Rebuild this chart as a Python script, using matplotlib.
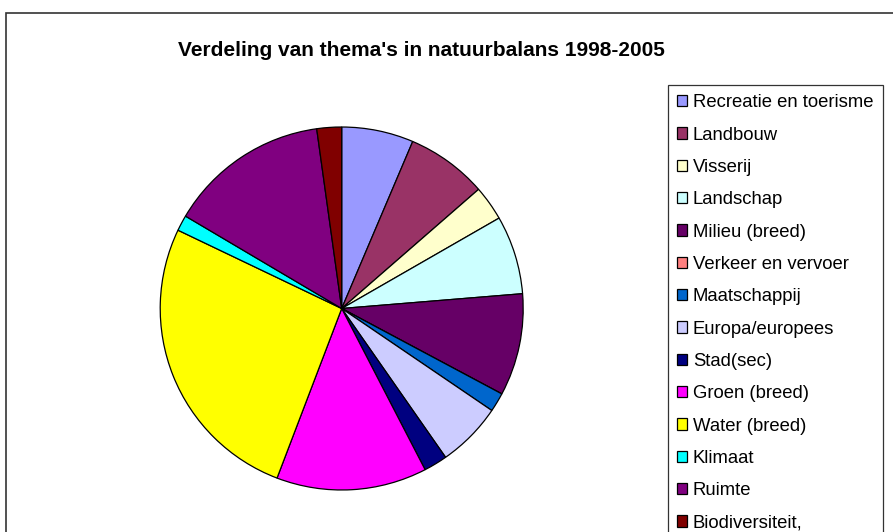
import matplotlib
matplotlib.use('Agg')
import matplotlib.pyplot as plt
from matplotlib.patches import Rectangle

plt.rcParams['font.family'] = ['Liberation Sans', 'DejaVu Sans']

# themes and their share (percent)
themes = ['Recreatie en toerisme', 'Landbouw', 'Visserij', 'Landschap',
          'Milieu (breed)', 'Verkeer en vervoer', 'Maatschappij',
          'Europa/europees', 'Stad(sec)', 'Groen (breed)', 'Water (breed)',
          'Klimaat', 'Ruimte', 'Biodiversiteit,']
shares = [6.4, 7.2, 3.1, 7.0, 9.1, 0.0, 1.7, 5.8, 2.1, 13.4, 26.3, 1.4, 14.3, 2.2]
colors = ['#9999FF', '#993366', '#FFFFCC', '#CCFFFF', '#660066', '#FF8080',
          '#0066CC', '#CCCCFF', '#000080', '#FF00FF', '#FFFF00', '#00FFFF',
          '#800080', '#800000']

W, H = 893, 532
fig = plt.figure(figsize=(W / 100, H / 100), dpi=100)

# outer chart frame (runs off the right and bottom edge)
fig.patches.append(Rectangle((5.5 / W, -0.1), 1.2, 1.1 - 12.5 / H,
                             transform=fig.transFigure, fill=False,
                             edgecolor='#333333', linewidth=1.2))

cx, cy, r = 341.7, 308.5, 183.3
ax = fig.add_axes([(cx - r) / W, (H - cy - r) / H, 2 * r / W, 2 * r / H])
wedges, _ = ax.pie(shares, colors=colors, startangle=90, counterclock=False,
                   radius=1, wedgeprops=dict(edgecolor='black', linewidth=0.9))
ax.set_xlim(-1.01, 1.01)
ax.set_ylim(-1.01, 1.01)
ax.set_aspect('equal')
ax.axis('off')

fig.text(421 / W, 1 - 50 / H, "Verdeling van thema's in natuurbalans 1998-2005",
         ha='center', va='center', fontsize=15, fontweight='bold')

leg = fig.legend(wedges, themes, loc='upper left',
                 bbox_to_anchor=(668 / W, 1 - 85 / H), fontsize=13.3,
                 frameon=True, fancybox=False, edgecolor='black',
                 handlelength=0.55, handleheight=0.55, handletextpad=0.3,
                 labelspacing=0.83, borderpad=0.5, borderaxespad=0)
leg.get_frame().set_linewidth(0.9)

fig.savefig('out.png', dpi=100)
